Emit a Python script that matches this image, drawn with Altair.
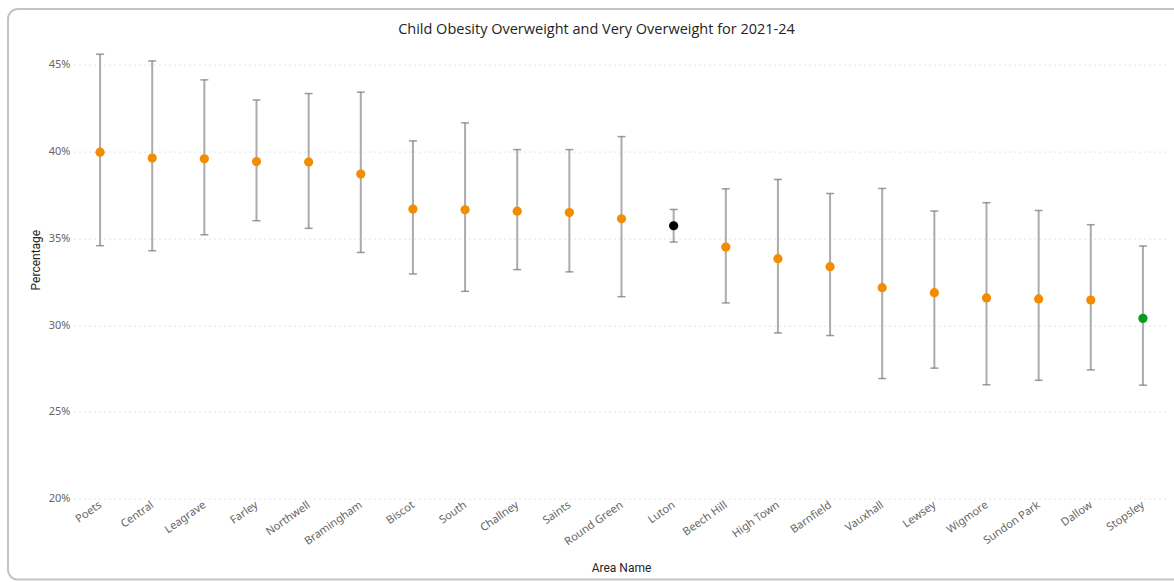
import altair as alt
import pandas as pd

# Ward-level prevalence with 95% confidence limits (%)
areas = ["Poets", "Central", "Leagrave", "Farley", "Northwell", "Bramingham",
         "Biscot", "South", "Challney", "Saints", "Round Green", "Luton",
         "Beech Hill", "High Town", "Barnfield", "Vauxhall", "Lewsey",
         "Wigmore", "Sundon Park", "Dallow", "Stopsley"]
values = [39.97, 39.63, 39.59, 39.43, 39.40, 38.71, 36.69, 36.65, 36.57, 36.49,
          36.13, 35.73, 34.50, 33.83, 33.37, 32.16, 31.87, 31.57, 31.51, 31.45,
          30.39]
lower = [34.58, 34.29, 35.21, 36.02, 35.58, 34.19, 32.95, 31.95, 33.20, 33.07,
         31.64, 34.79, 31.28, 29.55, 29.40, 26.92, 27.52, 26.56, 26.82, 27.42,
         26.54]
upper = [45.62, 45.23, 44.14, 42.98, 43.35, 43.43, 40.62, 41.66, 40.12, 40.12,
         40.87, 36.67, 37.86, 38.40, 37.59, 37.88, 36.58, 37.06, 36.61, 35.79,
         34.56]
groups = ["Similar"] * 11 + ["Luton"] + ["Similar"] * 8 + ["Better"]

group_domain = ["Similar", "Luton", "Better"]
group_colors = ["#F28C00", "#000000", "#0A9A1F"]

df = pd.DataFrame({
    "Area Name": areas,
    "Percentage": values,
    "Lower": lower,
    "Upper": upper,
    "Group": groups,
})

PLOT_W = 1095
PLOT_H = 451
LABEL_FONT = "Noto Sans"
TITLE_FONT = "Roboto"

x_enc = alt.X(
    "Area Name:N",
    sort=None,
    scale=alt.Scale(type="point", padding=0.5),
    axis=alt.Axis(
        title="Area Name",
        labelAngle=325,
        labelAlign="right",
        labelBaseline="middle",
        labelPadding=5,
        labelFontSize=11,
        labelFont=LABEL_FONT,
        labelColor="#666666",
        ticks=False,
        domain=False,
        grid=False,
        titleFont=TITLE_FONT,
        titleFontSize=12,
        titleFontWeight="normal",
        titleColor="#252423",
        titleY=64,
        titleX=547,
    ),
)

y_scale = alt.Scale(domain=[20, 46], nice=False, zero=False)
y_axis = alt.Axis(
    title="Percentage",
    values=[20, 25, 30, 35, 40, 45],
    labelExpr="datum.value + '%'",
    labelFontSize=11,
    labelFont=LABEL_FONT,
    labelColor="#666666",
    labelPadding=4,
    ticks=False,
    domain=False,
    grid=True,
    gridColor="#C8C6C4",
    gridDash=[1, 4],
    gridWidth=1,
    titleFont=TITLE_FONT,
    titleFontSize=12,
    titleFontWeight="normal",
    titleColor="#252423",
    titleX=-32,
    titleY=212,
)

base = alt.Chart(df)

bars = base.mark_rule(color="#ABABAB", strokeWidth=2).encode(
    x=x_enc,
    y=alt.Y("Lower:Q", scale=y_scale, axis=y_axis),
    y2="Upper:Q",
)

cap_low = base.mark_tick(color="#727272", size=8, thickness=1.5).encode(
    x=alt.X("Area Name:N", sort=None),
    y=alt.Y("Lower:Q"),
)
cap_high = base.mark_tick(color="#727272", size=8, thickness=1.5).encode(
    x=alt.X("Area Name:N", sort=None),
    y=alt.Y("Upper:Q"),
)

points = base.mark_circle(size=85, opacity=1).encode(
    x=alt.X("Area Name:N", sort=None),
    y=alt.Y("Percentage:Q"),
    color=alt.Color("Group:N",
                    scale=alt.Scale(domain=group_domain, range=group_colors),
                    legend=None),
)

# Card outline around the whole visual
card = alt.Chart(pd.DataFrame({"k": [0]})).mark_rect(
    fillOpacity=0, stroke="#C4C4C4", strokeWidth=2, cornerRadius=10
).encode(
    x=alt.value(-66),
    x2=alt.value(PLOT_W + 40),
    y=alt.value(-38.6),
    y2=alt.value(532),
)

chart = alt.layer(card, bars, cap_low, cap_high, points).properties(
    width=PLOT_W,
    height=PLOT_H,
    title=alt.TitleParams(
        "Child Obesity Overweight and Very Overweight for 2021-24",
        font="Open Sans",
        fontSize=14.5,
        fontWeight=500,
        color="#252423",
        anchor="middle",
        frame="group",
        offset=12,
        dy=41.5,
        dx=-25,
    ),
    autosize=alt.AutoSizeParams(type="none"),
    padding={"left": 74, "top": 47.6, "right": 5, "bottom": 83.4},
    background="#FFFFFF",
).configure_view(stroke=None)

chart.save("out.html", embed_options={"renderer": "svg", "actions": False})
